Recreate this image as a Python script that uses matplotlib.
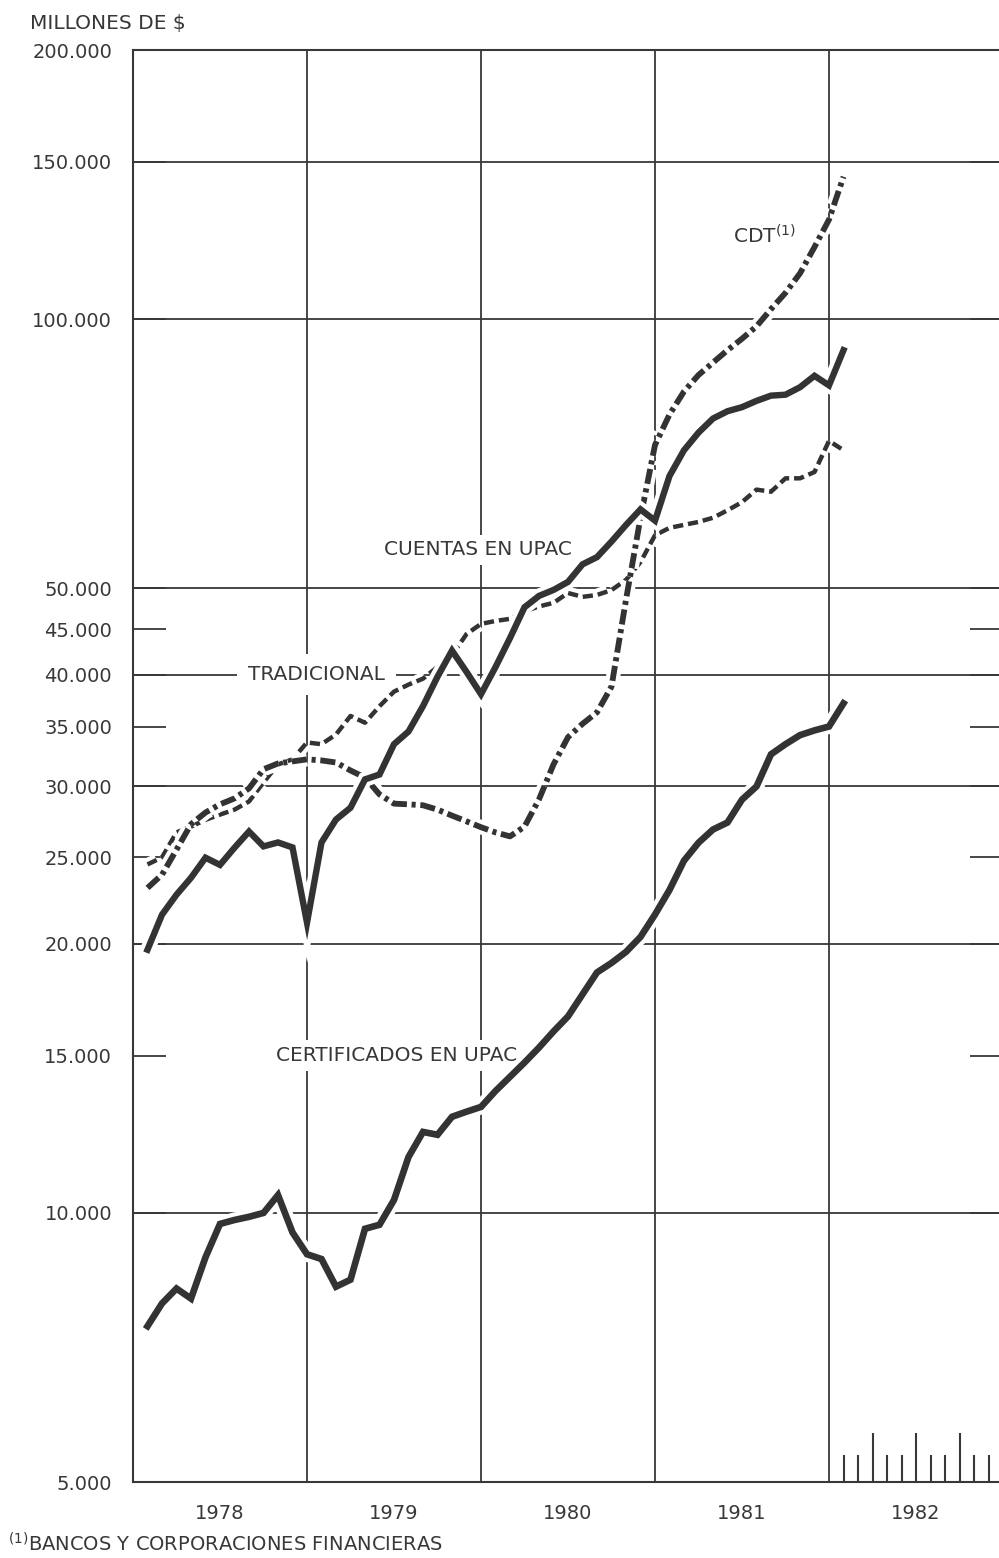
import numpy as np
import matplotlib.pyplot as plt
import matplotlib.patheffects as pe
from matplotlib.ticker import FixedLocator, NullLocator
from matplotlib.transforms import blended_transform_factory

# Saldos mensuales, enero 1978 - enero 1982 (millones de $)
certificados = [7470, 7920, 8230, 8020, 8920, 9720, 9820, 9900, 10000, 10470, 9510, 8990,
                8880, 8270, 8420, 9600, 9700, 10340, 11550, 12320, 12230, 12810, 12980, 13140,
                13690, 14200, 14730, 15310, 15960, 16590, 17560, 18580, 19040, 19590, 20360, 21570,
                22980, 24780, 25950, 26850, 27340, 29000, 30000, 32590, 33450, 34240, 34660, 35010,
                37160]
cuentas = [19700, 21560, 22700, 23710, 24970, 24510, 25620, 26710, 25710, 25970, 25640, 21120,
           25970, 27550, 28400, 30550, 30940, 33450, 34560, 36900, 39800, 42570, 40300, 38050,
           40800, 43970, 47600, 49010, 49770, 50810, 53160, 54160, 56380, 58840, 61250, 59500,
           66750, 71330, 74640, 77400, 78870, 79700, 81000, 82100, 82300, 83900, 86400, 84300,
           92300]
tradicional = [24540, 24990, 26650, 27050, 27530, 27900, 28260, 28860, 30310, 31750, 32170, 33600,
               33450, 34300, 35970, 35350, 36890, 38300, 39000, 39600, 40820, 42070, 44420, 45600,
               45950, 46200, 47100, 47700, 48140, 49380, 48890, 49130, 49750, 51080, 53470, 57300,
               58400, 58850, 59300, 59940, 61100, 62400, 64450, 64100, 66350, 66350, 67440, 73070,
               71330]
cdt = [23100, 23900, 25490, 27220, 28050, 28650, 29090, 29850, 31360, 31830, 32000, 32170,
       32080, 31910, 31260, 30700, 29390, 28700, 28650, 28580, 28260, 27830, 27420, 27010,
       26650, 26380, 27050, 29020, 31750, 34060, 35250, 36310, 38800, 48530, 59940, 72300,
       78200, 82990, 86580, 89400, 92300, 95060, 98150, 102600, 107000, 112500, 120400, 129200,
       144300]

years = ['1978', '1979', '1980', '1981', '1982']
ytick_vals = [200000, 150000, 100000, 50000, 45000, 40000, 35000, 30000, 25000,
              20000, 15000, 10000, 5000]
ytick_labels = ['200.000', '150.000', '100.000', '50.000', '45.000', '40.000', '35.000',
                '30.000', '25.000', '20.000', '15.000', '10.000', '5.000']
full_grid = [150000, 100000, 50000, 40000, 30000, 20000, 10000]

ink = '#383838'
line_col = '#333333'

# month-end positions in fractional years
x = 1978 + (np.arange(len(cuentas)) + 1) / 12.0

fig = plt.figure(figsize=(9.99, 15.58), dpi=100)
ax = fig.add_axes([133 / 999, 1 - 1482 / 1558, (1003 - 133) / 999, (1482 - 50) / 1558])
ax.set_yscale('log')
ax.set_xlim(1978, 1983)
ax.set_ylim(5000, 200000)

# grid
for v in full_grid:
    ax.axhline(v, color=ink, lw=1.3, zorder=1)
for yr in range(1979, 1983):
    ax.axvline(yr, color=ink, lw=1.3, zorder=1)

# y axis ticks and labels
ax.yaxis.set_major_locator(FixedLocator(ytick_vals))
ax.yaxis.set_minor_locator(NullLocator())
ax.set_yticklabels(ytick_labels)
ax.tick_params(axis='y', which='major', direction='in', length=24, width=1.3,
               left=True, right=True, pad=15, labelsize=14, color=ink, labelcolor=ink)

# x axis: year labels centred in each year
ax.set_xticks([1978.5 + i for i in range(len(years))])
ax.set_xticklabels(years)
ax.xaxis.set_minor_locator(NullLocator())
ax.tick_params(axis='x', length=0, pad=16, labelsize=14, labelcolor=ink)

for s in ax.spines.values():
    s.set_color(ink)
    s.set_linewidth(1.5)

# monthly marks for 1982
trans = blended_transform_factory(ax.transData, ax.transAxes)
month_ticks = 1982 + np.arange(1, 12) / 12.0
month_h = [0.034 if m % 3 == 0 else 0.019 for m in range(1, 12)]
ax.vlines(month_ticks, 0, month_h, color=ink, lw=1.5, transform=trans, zorder=2)

def halo(lw):
    return [pe.Stroke(linewidth=lw + 6, foreground='white'), pe.Normal()]

ax.plot(x, tradicional, color=line_col, lw=3.2, dashes=(2.3, 1.1),
        path_effects=halo(3.2), zorder=3)
ax.plot(x, cdt, color=line_col, lw=4.2, dashes=(2.6, 0.8, 0.7, 0.8),
        path_effects=halo(4.2), zorder=4)
ax.plot(x, cuentas, color=line_col, lw=4.6, solid_joinstyle='miter',
        path_effects=halo(4.6), zorder=5)
ax.plot(x, certificados, color=line_col, lw=4.8, solid_joinstyle='miter',
        path_effects=halo(4.8), zorder=5)

box = dict(facecolor='white', edgecolor='none', pad=4)
ax.text(1979.44, 55200, 'CUENTAS EN UPAC', fontsize=14.5, color=ink, va='center',
        ha='left', bbox=box, zorder=2.5)
ax.text(1978.66, 40000, 'TRADICIONAL', fontsize=14.5, color=ink, va='center',
        ha='left', bbox=dict(facecolor='white', edgecolor='none', pad=8), zorder=2.5)
ax.text(1978.82, 15000, 'CERTIFICADOS EN UPAC', fontsize=14.5, color=ink, va='center',
        ha='left', bbox=box, zorder=2.5)
ax.text(1981.45, 124000, r'CDT$^{(1)}$', fontsize=14.5, color=ink, va='center',
        ha='left', bbox=box, zorder=2.5)

fig.text(30 / 999, 1 - 24 / 1558, r'MILLONES DE \$', fontsize=14.5, color=ink,
         va='center', ha='left')
fig.text(8 / 999, 1 - 1552 / 1558, r'${}^{(1)}$BANCOS Y CORPORACIONES FINANCIERAS',
         fontsize=14, color=ink, va='baseline', ha='left')

fig.savefig('out.png', dpi=100, facecolor='white')
